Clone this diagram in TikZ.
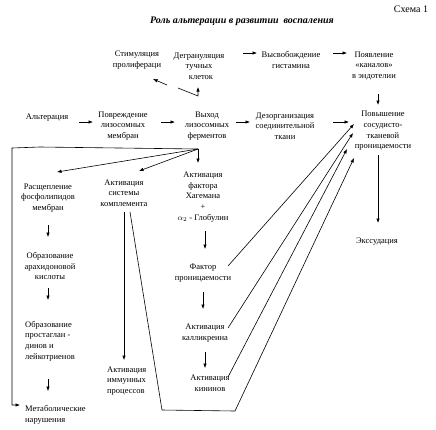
\documentclass[tikz,border=0pt]{standalone}
\usepackage{fontspec}
\setmainfont{Liberation Serif}
\usetikzlibrary{arrows.meta}
\begin{document}
\begin{tikzpicture}[x=1pt,y=-1pt,
  txt/.style={inner sep=0pt,align=center,font=\fontsize{8.5}{10.7}\selectfont},
  ltxt/.style={inner sep=0pt,align=left,anchor=west,font=\fontsize{8.5}{10.7}\selectfont},
  arr/.style={-{Latex[length=4.5pt,width=3.5pt]},line width=0.6pt},
  ln/.style={line width=0.6pt}]
\useasboundingbox (0,0) rectangle (436,429);
% header
\node[inner sep=0pt,font=\fontsize{10}{12}\selectfont] (schema) at (411,9) {Схема 1};
\node[inner sep=0pt,font=\fontsize{10}{12}\selectfont\bfseries\itshape] (title) at (242,21) {Роль альтерации в развитии\ \ воспаления};
% row 1
\node[txt] (stim) at (137,60) {Стимуляция\\пролифераци};
\node[txt] (degr) at (199,66) {Дегрануляция\\тучных\hspace{14pt}\\\hspace{4pt}клеток};
\node[txt] (hist) at (291,60) {Высвобождение\\гистамина};
\node[txt] (chan) at (374,66) {Появление\\«каналов»\\в эндотелии};
\coordinate (a1s) at (243,53); \coordinate (a1e) at (257,53);
\coordinate (a2s) at (333,53); \coordinate (a2e) at (347,53);
\draw[arr] (a1s) -- (a1e);
\draw[arr] (a2s) -- (a2e);
\coordinate (s1) at (167,85); \coordinate (s1e) at (153,79);
\draw[arr] (s1) -- (s1e);
\coordinate (d1) at (178,88); \coordinate (d2) at (198,96); \coordinate (d3) at (198,87);
\draw[arr] (d1) -- (d2) -- (d3);
\coordinate (c1) at (378,94); \coordinate (c2) at (378,105);
\draw[arr] (c1) -- (c2);
% row 2
\node[txt] (alt) at (47,118) {Альтерация};
\node[txt] (povr) at (123,126) {Повреждение\\лизосомных\\мембран};
\node[txt] (vyh) at (207,126) {Выход\\лизосомных\\ферментов};
\node[txt] (dez) at (285,126) {Дезорганизация\\соединительной\\ткани};
\node[txt] (pov) at (383,131) {Повышение\\сосудисто-\\тканевой\\проницаемости};
\coordinate (r1s) at (79,122); \coordinate (r1e) at (93,122);
\coordinate (r2s) at (161,122); \coordinate (r2e) at (175,122);
\coordinate (r3s) at (236,122); \coordinate (r3e) at (250,122);
\coordinate (r4s) at (333,122); \coordinate (r4e) at (349,122);
\draw[arr] (r1s) -- (r1e);
\draw[arr] (r2s) -- (r2e);
\draw[arr] (r3s) -- (r3e);
\draw[arr] (r4s) -- (r4e);
% fan
\coordinate (fan) at (198,149);
\coordinate (f1) at (57,172); \coordinate (f2) at (139,171); \coordinate (f3) at (198,163);
\draw[arr] (fan) -- (f1);
\draw[arr] (fan) -- (f2);
\draw[arr] (fan) -- (f3);
\coordinate (l1) at (40,147); \coordinate (l2) at (12,148); \coordinate (l3) at (12,405); \coordinate (l4) at (20,405);
\draw[arr] (fan) -- (l1) -- (l2) -- (l3) -- (l4);
% column 1
\node[txt] (rassh) at (48,198) {Расщепление\\фосфолипидов\\мембран};
\node[txt] (arah) at (50,266) {Образование\\арахидоновой\\кислоты};
\node[ltxt] (prost) at (25,341) {Образование\\простаглан -\\динов и\\лейкотриенов};
\node[ltxt] (metab) at (25,415) {Метаболические\\нарушения};
\coordinate (k1s) at (48,225); \coordinate (k1e) at (48,237);
\coordinate (k2s) at (48,288); \coordinate (k2e) at (48,300);
\coordinate (k3s) at (48,379); \coordinate (k3e) at (48,391);
\draw[arr] (k1s) -- (k1e);
\draw[arr] (k2s) -- (k2e);
\draw[arr] (k3s) -- (k3e);
% column 2
\node[txt] (kompl) at (124,193) {Активация\\системы\\комплемента};
\node[ltxt] (immun) at (107,381) {Активация\\иммунных\\процессов};
\coordinate (m1) at (124,212); \coordinate (m2) at (124,360);
\draw[arr] (m1) -- (m2);
\coordinate (p1) at (130,212); \coordinate (p2) at (162,410); \coordinate (p3) at (235,411); \coordinate (p4) at (354,158);
\draw[arr] (p1) -- (p2) -- (p3) -- (p4);
% column 3
\node[txt] (hag) at (203,197) {Активация\\фактора\\Хагемана\\+\\$\alpha_2$ - Глобулин};
\node[txt] (fakt) at (203,273) {Фактор\\проницаемости};
\node[txt] (kall) at (205,333) {Активация\\калликреина};
\node[txt] (kin) at (210,383) {Активация\\кининов};
\coordinate (h1s) at (205,231); \coordinate (h1e) at (205,249);
\coordinate (h2s) at (203,292); \coordinate (h2e) at (203,309);
\coordinate (h3s) at (205,352); \coordinate (h3e) at (205,368);
\draw[arr] (h1s) -- (h1e);
\draw[arr] (h2s) -- (h2e);
\draw[arr] (h3s) -- (h3e);
\coordinate (q1) at (228,266); \coordinate (q1e) at (354,124);
\coordinate (q2) at (228,328); \coordinate (q2e) at (353,133);
\coordinate (q3) at (228,377); \coordinate (q3e) at (347,149);
\draw[arr] (q1) -- (q1e);
\draw[arr] (q2) -- (q2e);
\draw[arr] (q3) -- (q3e);
% right
\node[txt] (exs) at (377,242) {Экссудация};
\coordinate (e1) at (378,155); \coordinate (e2) at (378,223);
\draw[arr] (e1) -- (e2);
\end{tikzpicture}
\end{document}
